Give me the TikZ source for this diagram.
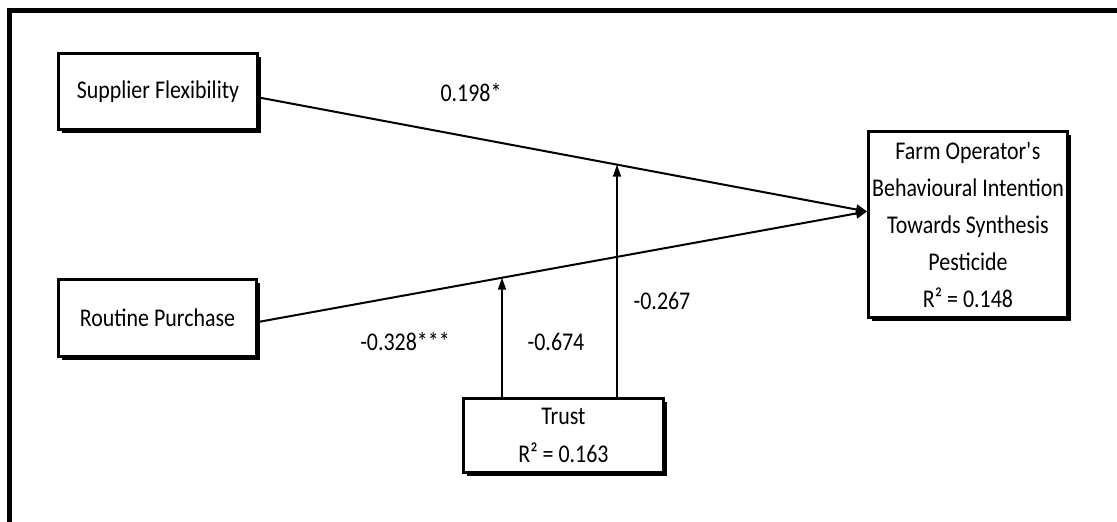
\documentclass[tikz,border=0pt]{standalone}
\usepackage{fontspec}
\setmainfont{Carlito}[FakeStretch=0.86]
\usetikzlibrary{arrows.meta,calc,intersections,shadows}
\newcommand\myfs{\fontsize{25.5}{37}\selectfont}
\begin{document}
\begin{tikzpicture}[x=1pt,y=-1pt,
  box/.style={draw, line width=3pt, fill=white, inner sep=0pt, align=center, font=\myfs,
    drop shadow={shadow xshift=3pt, shadow yshift=-3pt, opacity=1, fill=black}},
  conn/.style={line width=2pt, -{Triangle[length=11pt,width=10pt]}},
  vconn/.style={line width=1.6pt, -{Triangle[length=12pt,width=8pt]}},
  lab/.style={font=\myfs, inner sep=0pt}]
\useasboundingbox (0,0) rectangle (1117,522);
\begin{scope}
\clip (0,0) rectangle (1117,522);
\draw[line width=5pt] (1130,10.5) -- (9.5,10.5) -- (9.5,540);
\end{scope}

\node[box, minimum width=199pt, minimum height=76pt] (sf) at (158,91.5) {Supplier Flexibility};
\node[box, minimum width=198pt, minimum height=77pt] (rp) at (157.5,318) {Routine Purchase};
\node[box, minimum width=199pt, minimum height=186pt] (farm) at (968,224.5)
  {Farm Operator\textquotesingle s\\Behavioural Intention\\Towards Synthesis\\Pesticide\\R² = 0.148};
\node[box, minimum width=200pt, minimum height=74pt] (trust) at (563.5,435.5)
  {Trust\\[1pt]R² = 0.163};

\coordinate (sfs) at ($(sf.east)+(0,6)$);
\coordinate (rps) at ($(rp.east)+(0,4)$);
\coordinate (fe) at ($(farm.west)+(0,-13)$);
\draw[conn, name path=lsf] (sfs) -- (fe);
\draw[conn, name path=lrp] (rps) -- (fe);

\coordinate (t1) at ([xshift=-61.5pt]trust.north);
\coordinate (t2) at ([xshift=53.5pt]trust.north);
\path[name path=v1] (t1) -- ++(0,-300);
\path[name path=v2] (t2) -- ++(0,-300);
\path[name intersections={of=lrp and v1, by=i1}];
\path[name intersections={of=lsf and v2, by=i2}];
\draw[vconn] (t1) -- (i1);
\draw[vconn] (t2) -- (i2);

\node[lab] (l1) at (471,93) {0.198*};
\node[lab] (l2) at (405,342) {-0.328***};
\node[lab] (l3) at (556,342) {-0.674};
\node[lab] (l4) at (662,301) {-0.267};
\end{tikzpicture}
\end{document}
